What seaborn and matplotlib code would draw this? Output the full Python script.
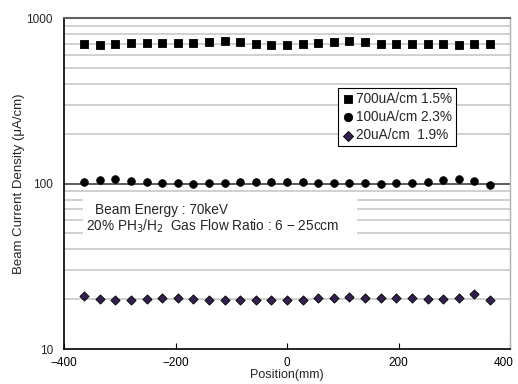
import matplotlib
matplotlib.use("Agg")
import matplotlib.pyplot as plt
import matplotlib.transforms as mtransforms
import seaborn as sns
import numpy as np
import pandas as pd
from matplotlib.ticker import LogLocator, NullFormatter
from matplotlib.patches import Rectangle

positions = [-364, -336, -308, -280, -252, -224, -196, -168, -140, -112, -84, -56, -28, 0,
             28, 56, 84, 112, 140, 168, 196, 224, 252, 280, 308, 336, 364]
s700 = [700, 690, 697, 706, 710, 706, 706, 706, 713, 724, 713, 700, 690, 690,
        697, 710, 720, 724, 717, 700, 694, 700, 700, 697, 690, 694, 700]
s100 = [102.8, 105.3, 107.2, 103.8, 101.8, 101.0, 100.4, 100.0, 101.0, 101.4, 102.4, 102.8, 102.8, 101.8,
        101.8, 101.4, 101.0, 100.4, 100.4, 100.0, 100.4, 100.4, 101.8, 105.7, 106.2, 103.3, 98.2]
s20 = [20.9, 20.0, 19.7, 19.9, 20.0, 20.3, 20.3, 20.0, 19.9, 19.9, 19.7, 19.8, 19.7, 19.7,
       19.9, 20.2, 20.45, 20.56, 20.45, 20.3, 20.3, 20.2, 20.0, 20.0, 20.45, 21.6, 19.9]
labels = ["700uA/cm 1.5%", "100uA/cm 2.3%", "20uA/cm  1.9%"]
xticks = [-400, -200, 0, 200, 400]
yticks = [10, 100, 1000]

sns.set_style("white")
plt.rcParams['font.family'] = ['Liberation Sans', 'DejaVu Sans']

fig = plt.figure(figsize=(5.18, 3.84), dpi=100)
ax = fig.add_axes([0.1236, 0.0911, 0.8610, 0.8620])

series = [(s700, labels[0], 's', 'black', 'black', 30),
          (s100, labels[1], 'o', 'black', 'black', 30),
          (s20, labels[2], 'D', '#33204f', 'black', 22)]
for vals, lab, mk, fc, ec, sz in series:
    df = pd.DataFrame({"Position": positions, "Value": vals})
    sns.scatterplot(data=df, x="Position", y="Value", ax=ax, marker=mk,
                    s=sz, color=fc, edgecolor=ec, linewidth=0.6,
                    label=lab, zorder=5)

ax.set_yscale('log')
ax.set_xlim(-400, 400)
ax.set_ylim(10, 1000)
ax.set_xticks(xticks)
ax.set_xticklabels(["\u2212400", "\u2212200", "0", "200", "400"])
ax.set_yticks(yticks)
ax.set_yticklabels(["10", "100", "1000"])
ax.yaxis.set_minor_locator(LogLocator(base=10, subs=np.arange(2, 10)))
ax.yaxis.set_minor_formatter(NullFormatter())
ax.grid(False)
ax.grid(True, which='minor', axis='y', color='#c8c8c8', linewidth=1.2)
ax.axhline(100, color='#404040', linewidth=1.2, zorder=1)
ax.tick_params(axis='x', direction='in', length=4, width=0.8, colors='black',
               labelsize=8.5, pad=6, bottom=True)
ax.tick_params(axis='y', which='both', length=0, labelsize=8.5, pad=8)
ax.tick_params(axis='y', which='minor', length=0)

# keep the rightmost tick label inside the image
last = ax.get_xticklabels()[-1]
last.set_transform(last.get_transform() + mtransforms.ScaledTranslation(-6 / 100, 0, fig.dpi_scale_trans))

for side in ['left', 'bottom']:
    ax.spines[side].set_color('black')
    ax.spines[side].set_linewidth(1.2)
ax.spines['top'].set_color('#606060')
ax.spines['top'].set_linewidth(1.5)
ax.spines['right'].set_color('#b0b0b0')
ax.spines['right'].set_linewidth(1.0)

ax.set_xlabel("Position(mm)", fontsize=9, labelpad=0)
ax.set_ylabel("Beam Current Density (\u03bcA/cm)", fontsize=9.5, labelpad=1)

# text box
ax.add_patch(Rectangle((0.043, 0.33), 0.615, 0.137, transform=ax.transAxes,
                       facecolor='white', edgecolor='none', zorder=3))
ax.text(0.07, 0.42, "Beam Energy : 70keV", transform=ax.transAxes,
        fontsize=9.8, va='center', ha='left', zorder=4)
ax.text(0.05, 0.372, "20% PH$_3$/H$_2$  Gas Flow Ratio : 6 \u2212 25ccm", transform=ax.transAxes,
        fontsize=9.8, va='center', ha='left', zorder=4)

leg = ax.legend(loc='upper left', bbox_to_anchor=(0.614, 0.789), fontsize=9.8,
                frameon=True, fancybox=False, edgecolor='black', framealpha=1,
                handletextpad=0.1, handlelength=0.9, borderpad=0.3, labelspacing=0.3,
                borderaxespad=0, markerscale=1.1)
leg.get_frame().set_linewidth(0.8)
leg.set_zorder(6)

fig.savefig("out.png", dpi=100)
